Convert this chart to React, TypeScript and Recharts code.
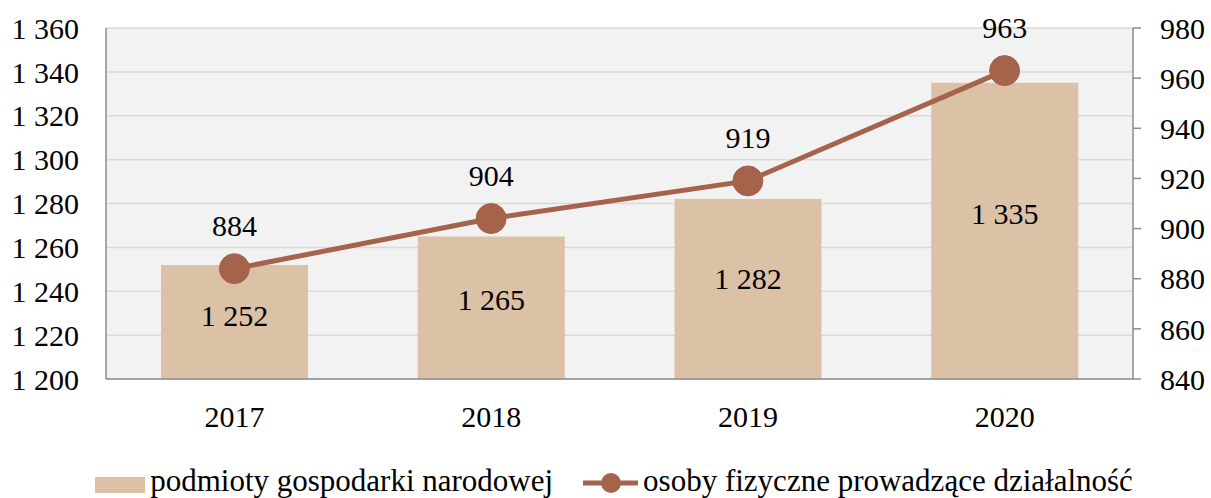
import { ComposedChart, Bar, Line, XAxis, YAxis, CartesianGrid, Legend, LabelList } from "recharts";

const years = ["2017", "2018", "2019", "2020"];
const podmioty = [1252, 1265, 1282, 1335];
const osoby = [884, 904, 919, 963];
const leftTicks = [1200, 1220, 1240, 1260, 1280, 1300, 1320, 1340, 1360];
const rightTicks = [840, 860, 880, 900, 920, 940, 960, 980];

const BAR_COLOR = "#DBC1A6";
const LINE_COLOR = "#A6634B";
const AXIS_COLOR = "#8C8C8C";
const FONT = "'Liberation Serif', serif";

const fmt = (v: number) => String(v).replace(/\B(?=(\d{3})+(?!\d))/g, " ");

const data = years.map((year, i) => ({ year, podmioty: podmioty[i], osoby: osoby[i] }));

const tickStyle = { fontFamily: FONT, fontSize: 30, fill: "#000" };

// label sits a bit above the middle of the bar
const BarLabel = (props: any) => {
  const { x, y, width, height, value } = props;
  return (
    <text x={x + width / 2} y={y + height * 0.44} textAnchor="middle" dominantBaseline="central" style={tickStyle}>
      {fmt(value)}
    </text>
  );
};

const LineLabel = (props: any) => {
  const { x, y, value } = props;
  return (
    <text x={x} y={y - 43} textAnchor="middle" dominantBaseline="central" style={tickStyle}>
      {fmt(value)}
    </text>
  );
};

const ChartLegend = () => (
  <div
    style={{
      display: "flex",
      justifyContent: "center",
      alignItems: "center",
      fontFamily: FONT,
      fontSize: 31,
      color: "#000",
      paddingTop: 36,
      paddingLeft: 17,
      lineHeight: "32px",
    }}
  >
    <span style={{ display: "inline-block", width: 50, height: 16, background: BAR_COLOR, marginRight: 5, marginTop: 8 }} />
    <span>podmioty gospodarki narodowej</span>
    <svg width={55} height={22} style={{ marginLeft: 30, marginRight: 5, marginTop: 4 }}>
      <line x1={0} y1={11} x2={55} y2={11} stroke={LINE_COLOR} strokeWidth={5} />
      <circle cx={28} cy={11} r={10} fill={LINE_COLOR} />
    </svg>
    <span>osoby fizyczne prowadzące działalność</span>
  </div>
);

export default function App() {
  return (
    <div style={{ position: "absolute", left: 0, top: 0, background: "#fff" }}>
      <ComposedChart width={1211} height={498} data={data} margin={{ top: 28, right: 0, bottom: 0, left: 0 }} barCategoryGap={0}>
        <CartesianGrid yAxisId="left" vertical={false} stroke="#D9D9D9" strokeWidth={1.5} fill="#F2F2F2" />
        <XAxis
          dataKey="year"
          height={50}
          tick={tickStyle}
          tickLine={false}
          tickSize={8}
          tickMargin={19}
          axisLine={{ stroke: AXIS_COLOR, strokeWidth: 1.5 }}
        />
        <YAxis
          yAxisId="left"
          width={106}
          domain={[1200, 1360]}
          ticks={leftTicks}
          tickFormatter={fmt}
          tick={tickStyle}
          tickLine={false}
          tickSize={8}
          tickMargin={19}
          axisLine={{ stroke: AXIS_COLOR, strokeWidth: 1.5 }}
          allowDataOverflow
        />
        <YAxis
          yAxisId="right"
          orientation="right"
          width={78}
          domain={[840, 980]}
          ticks={rightTicks}
          tick={tickStyle}
          tickLine={{ stroke: AXIS_COLOR, strokeWidth: 1.5 }}
          tickSize={8}
          tickMargin={19}
          axisLine={{ stroke: AXIS_COLOR, strokeWidth: 1.5 }}
          allowDataOverflow
        />
        <Legend verticalAlign="bottom" height={69} content={ChartLegend} />
        <Bar yAxisId="left" dataKey="podmioty" fill={BAR_COLOR} barSize={147} isAnimationActive={false}>
          <LabelList dataKey="podmioty" content={BarLabel} />
        </Bar>
        <Line
          yAxisId="right"
          dataKey="osoby"
          stroke={LINE_COLOR}
          strokeWidth={5}
          dot={{ r: 15, fill: LINE_COLOR, stroke: LINE_COLOR, strokeWidth: 1 }}
          isAnimationActive={false}
        >
          <LabelList dataKey="osoby" content={LineLabel} />
        </Line>
      </ComposedChart>
    </div>
  );
}
